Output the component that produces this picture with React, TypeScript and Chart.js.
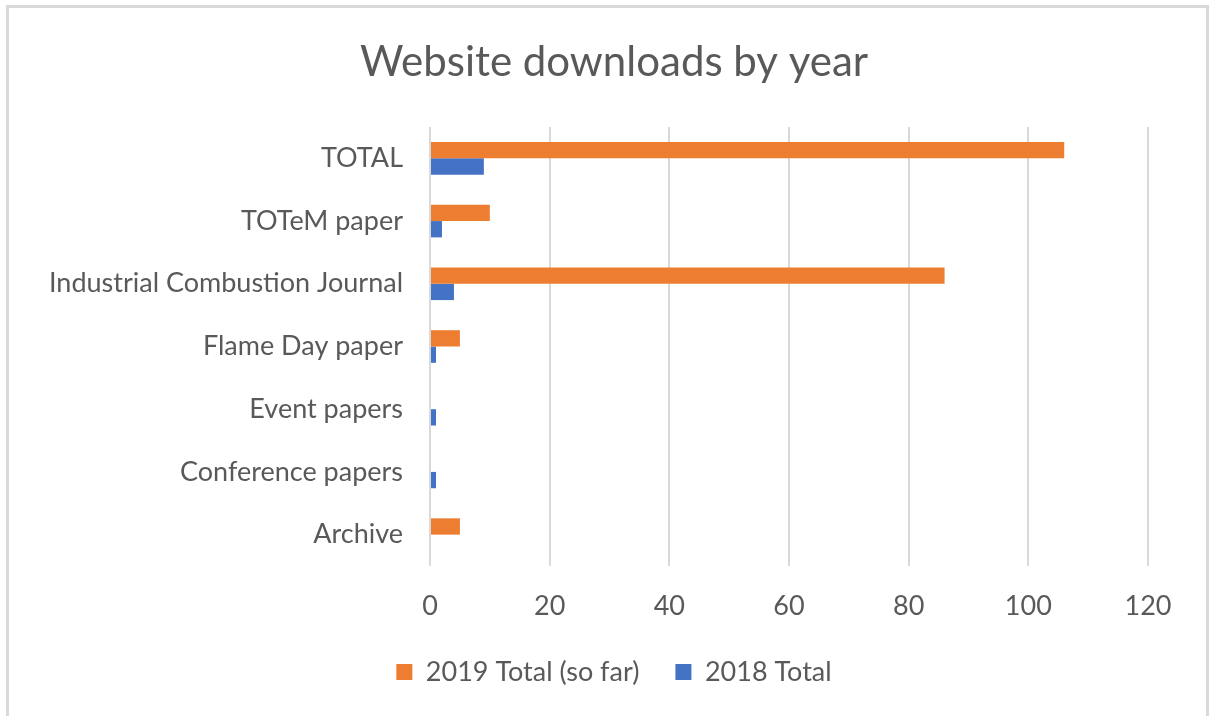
import React, { useEffect, useRef } from "react";
import { Chart, registerables } from "chart.js";

Chart.register(...registerables);

const categories = [
  "TOTAL",
  "TOTeM paper",
  "Industrial Combustion Journal",
  "Flame Day paper",
  "Event papers",
  "Conference papers",
  "Archive",
];
const total2019 = [106, 10, 86, 5, 0, 0, 5];
const total2018 = [9, 2, 4, 1, 1, 1, 0];
const xTicks = [0, 20, 40, 60, 80, 100, 120];

const FONT = "Lato, 'Open Sans', sans-serif";
const TEXT = "#595959";

export default function App() {
  const ref = useRef<HTMLCanvasElement | null>(null);
  useEffect(() => {
    if (!ref.current) return;
    const chart = new Chart(ref.current, {
      type: "bar",
      data: {
        labels: categories,
        datasets: [
          {
            label: "2019 Total (so far)",
            data: total2019,
            backgroundColor: "#ED7D31",
            categoryPercentage: 0.52,
            barPercentage: 1,
          },
          {
            label: "2018 Total",
            data: total2018,
            backgroundColor: "#4472C4",
            categoryPercentage: 0.52,
            barPercentage: 1,
          },
        ],
      },
      options: {
        indexAxis: "y",
        responsive: false,
        animation: false,
        layout: { padding: { top: 0, left: 15, right: 0, bottom: 20.5 } },
        plugins: {
          title: {
            display: true,
            text: "Website downloads by year",
            color: TEXT,
            font: { family: FONT, size: 42, weight: "normal", lineHeight: 1.2 },
            padding: { top: 36.8, bottom: 39.8 },
          },
          legend: {
            position: "bottom",
            labels: {
              color: TEXT,
              font: { family: FONT, size: 27 },
              boxWidth: 16,
              boxHeight: 16,
              padding: 36,
            },
          },
          tooltip: { enabled: false },
        },
        scales: {
          x: {
            min: 0,
            max: 120,
            afterBuildTicks: (scale: any) => {
              scale.ticks = xTicks.map((v) => ({ value: v }));
            },
            afterFit: (scale: any) => {
              scale.height = 56.5;
              scale.paddingRight = 65;
            },
            border: { display: false },
            grid: { color: "#d9d9d9", lineWidth: 2, drawTicks: false },
            ticks: {
              color: TEXT,
              font: { family: FONT, size: 27 },
              padding: 24,
            },
          },
          y: {
            afterFit: (scale: any) => {
              scale.width = 415;
            },
            border: { display: false },
            grid: { display: false, drawTicks: false },
            ticks: {
              color: TEXT,
              font: { family: FONT, size: 27 },
              padding: 27,
            },
          },
        },
      },
    });
    return () => chart.destroy();
  }, []);

  return (
    <div
      style={{
        position: "absolute",
        left: 0,
        top: 0,
        width: 1213,
        height: 716,
        background: "#ffffff",
        overflow: "hidden",
      }}
    >
      <div
        style={{
          position: "absolute",
          left: 6,
          top: 5,
          width: 1203,
          height: 730,
          border: "3px solid #d9d9d9",
          borderBottom: "none",
          boxSizing: "border-box",
        }}
      />
      <canvas
        ref={ref}
        width={1213}
        height={716}
        style={{ position: "absolute", left: 0, top: 0 }}
      />
    </div>
  );
}
